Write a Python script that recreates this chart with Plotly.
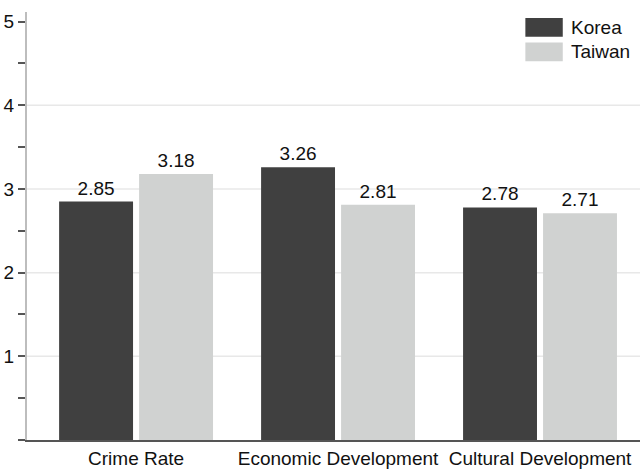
import plotly.graph_objects as go

# Mean ratings by country
categories = ["Crime Rate", "Economic Development", "Cultural Development"]
korea = [2.85, 3.26, 2.78]
taiwan = [3.18, 2.81, 2.71]
series_names = ["Korea", "Taiwan"]
y_ticks = [1, 2, 3, 4, 5]
grid_values = [1, 2, 3, 4]

dark = "#404040"
light = "#d0d2d1"
font_family = "Liberation Sans, Arial, sans-serif"

fig = go.Figure()
for name, vals, color, off in [
    (series_names[0], korea, dark, -0.381),
    (series_names[1], taiwan, light, 0.015),
]:
    fig.add_trace(go.Bar(
        x=categories, y=vals, name=name,
        marker=dict(color=color, line=dict(width=0)),
        width=0.366, offset=off,
        text=[f"{v:.2f}" for v in vals],
        textposition="outside",
        textfont=dict(size=19, color="#111111", family=font_family),
        cliponaxis=False,
        showlegend=False,
    ))

# light horizontal reference lines behind the bars
shapes = [
    dict(type="line", xref="paper", yref="y", x0=0, x1=1, y0=g, y1=g,
         line=dict(color="#e8e8e8", width=1.5), layer="below")
    for g in grid_values
]

# legend block, top right
legend_items = [(series_names[0], dark, 0.964), (series_names[1], light, 0.907)]
annotations = []
for label, color, yc in legend_items:
    shapes.append(dict(type="rect", xref="paper", yref="paper",
                       x0=0.813, x1=0.874, y0=yc - 0.022, y1=yc + 0.022,
                       fillcolor=color, line=dict(width=0)))
    annotations.append(dict(xref="paper", yref="paper", x=0.884, y=yc,
                            text=label, showarrow=False, xanchor="left",
                            yanchor="middle",
                            font=dict(size=19, color="#111111", family=font_family)))

fig.update_layout(
    width=640, height=473,
    margin=dict(l=27, r=0, t=12, b=33),
    paper_bgcolor="white", plot_bgcolor="white",
    barmode="overlay",
    font=dict(family=font_family, size=19, color="#111111"),
    shapes=shapes,
    annotations=annotations,
    xaxis=dict(
        range=[-0.54, 2.495],
        showline=True, linecolor="#555555", linewidth=2,
        ticks="", showgrid=False,
        tickfont=dict(size=19),
    ),
    yaxis=dict(
        range=[0, 5.115],
        tickvals=y_ticks,
        showline=True, linecolor="#bdbdbd", linewidth=2,
        ticks="outside", ticklen=7, tickwidth=1.5, tickcolor="#555555",
        showgrid=False, zeroline=False,
        tickfont=dict(size=19),
        minor=dict(dtick=0.5, tick0=0.5, ticks="outside", ticklen=7,
                   tickwidth=1.5, tickcolor="#555555", showgrid=False),
    ),
)

fig.write_html("out.html")
